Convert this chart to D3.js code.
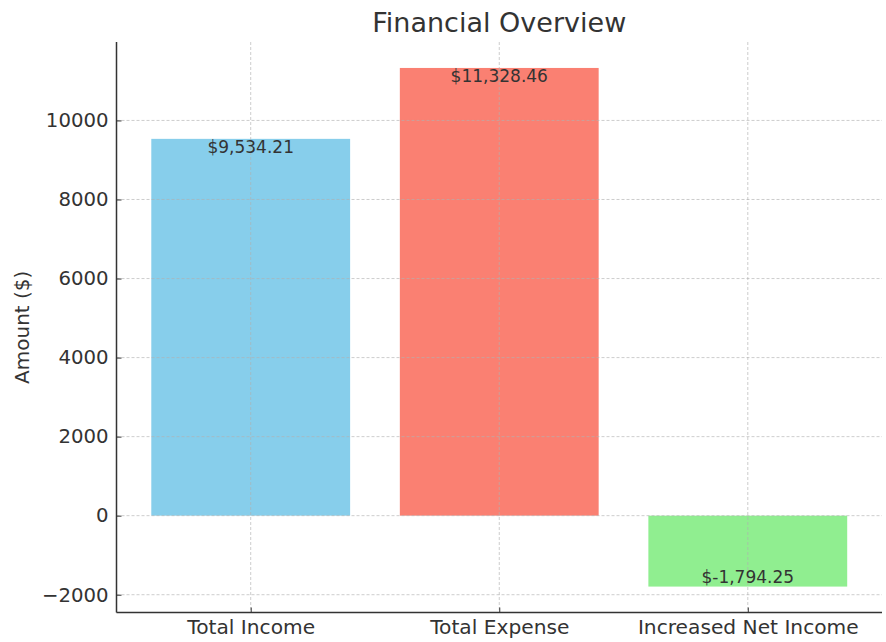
<!DOCTYPE html>
<html><head><meta charset="utf-8">
<script src="https://cdn.jsdelivr.net/npm/d3@7"></script>
<style>body{margin:0;background:#fff}svg{display:block}text{font-family:"DejaVu Sans",sans-serif;fill:#333}</style>
</head><body>
<script>
const categories = ["Total Income", "Total Expense", "Increased Net Income"];
const values = [9534.21, 11328.46, -1794.25];
const colors = ["#87CEEB", "#FA8072", "#90EE90"];
const yTicks = [-2000, 0, 2000, 4000, 6000, 8000, 10000];

const W = 886, H = 642;
const L = 116.5, R = 882, T = 42, B = 612.5;
const svg = d3.select("body").append("svg").attr("width", W).attr("height", H);

const x = d3.scaleLinear().domain([-0.54, 2.54]).range([L, R]);
const y = d3.scaleLinear().domain([-2450, 11985]).range([B, T]);
const bw = 0.8;

// bars
svg.selectAll("rect.bar").data(values).join("rect")
  .attr("x", (d, i) => x(i - bw / 2)).attr("width", (d, i) => x(i + bw / 2) - x(i - bw / 2))
  .attr("y", d => y(Math.max(0, d))).attr("height", d => Math.abs(y(d) - y(0)))
  .attr("fill", (d, i) => colors[i]);

// grid (drawn above bars)
const gs = { stroke: "#b0b0b0", op: 0.8 };
svg.append("g").selectAll("line").data(yTicks).join("line")
  .attr("x1", L).attr("x2", R).attr("y1", d => y(d)).attr("y2", d => y(d))
  .attr("stroke", gs.stroke).attr("stroke-opacity", gs.op).attr("stroke-width", 0.8).attr("stroke-dasharray", "3,2");
svg.append("g").selectAll("line").data(categories).join("line")
  .attr("x1", (d, i) => x(i)).attr("x2", (d, i) => x(i)).attr("y1", T).attr("y2", B)
  .attr("stroke", gs.stroke).attr("stroke-opacity", gs.op).attr("stroke-width", 0.8).attr("stroke-dasharray", "3,2");

// value labels
const fmt = d3.format(",.2f");
svg.selectAll("text.val").data(values).join("text")
  .attr("x", (d, i) => x(i)).attr("y", d => d >= 0 ? y(d) + 14 : y(d) - 3.5)
  .attr("text-anchor", "middle").attr("font-size", "17px")
  .text(d => "$" + (d < 0 ? "-" + fmt(-d) : fmt(d)));

// axes
const yAxis = d3.axisLeft(y).tickValues(yTicks).tickSizeInner(-5).tickSizeOuter(0).tickPadding(8)
  .tickFormat(d => d < 0 ? "\u2212" + Math.abs(d) : String(d));
const ya = svg.append("g").attr("transform", `translate(${L},0)`).call(yAxis);
ya.select(".domain").remove();
ya.selectAll("text").attr("font-size", "19.7px").attr("fill", "#333").style("font-family", "DejaVu Sans");
ya.selectAll("line").attr("stroke", "#333");

const xAxis = d3.axisBottom(x).tickValues([0, 1, 2]).tickSizeInner(-5).tickSizeOuter(0).tickPadding(7)
  .tickFormat(i => categories[i]);
const xa = svg.append("g").attr("transform", `translate(0,${B})`).call(xAxis);
xa.select(".domain").remove();
xa.selectAll("text").attr("font-size", "20.2px").attr("fill", "#333").style("font-family", "DejaVu Sans");
xa.selectAll("line").attr("stroke", "#333");

// spines
svg.append("line").attr("x1", L).attr("x2", L).attr("y1", T).attr("y2", B).attr("stroke", "#333").attr("stroke-width", 1.5);
svg.append("line").attr("x1", L).attr("x2", R).attr("y1", B).attr("y2", B).attr("stroke", "#333").attr("stroke-width", 1.5);

// title and ylabel
svg.append("text").attr("x", (L + R) / 2).attr("y", 32).attr("text-anchor", "middle")
  .attr("font-size", "27px").text("Financial Overview");
svg.append("text").attr("transform", `translate(29,${(T + B) / 2}) rotate(-90)`).attr("text-anchor", "middle")
  .attr("font-size", "20px").text("Amount ($)");
</script>
</body></html>
